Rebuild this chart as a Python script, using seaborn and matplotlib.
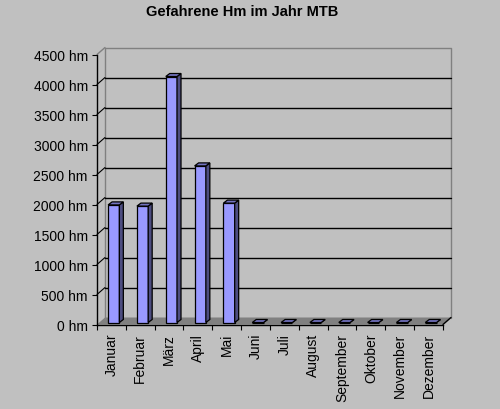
import matplotlib
matplotlib.use('Agg')
import matplotlib.pyplot as plt
import seaborn as sns
import pandas as pd
from matplotlib.patches import Polygon
from matplotlib.lines import Line2D
from matplotlib.transforms import ScaledTranslation

# ---- data ----
months = ["Januar", "Februar", "März", "April", "Mai", "Juni", "Juli",
          "August", "September", "Oktober", "November", "Dezember"]
hm = [1960, 1940, 4100, 2610, 1990, 0, 0, 0, 0, 0, 0, 0]
yticks = [0, 500, 1000, 1500, 2000, 2500, 3000, 3500, 4000, 4500]
ytick_labels = [f"{v} hm" for v in yticks]
title = "Gefahrene Hm im Jahr MTB"

sns.set_style("white")
plt.rcParams['font.family'] = ['Liberation Sans', 'DejaVu Sans']

BG = '#c0c0c0'
FRONT = '#9999ff'
SIDE = '#4d4d80'
TOP = '#7373bf'
FLOOR = '#808080'
WALLEDGE = '#808080'

W, H = 500, 410
fig = plt.figure(figsize=(W / 100, H / 100), dpi=100, facecolor=BG)
x0px, x1px, y0px, y1px = 97, 443, 325.5, 55.5
ax = fig.add_axes([x0px / W, (H - y0px) / H, (x1px - x0px) / W, (y0px - y1px) / H])
ax.set_facecolor('none')

df = pd.DataFrame({"Monat": months, "Hm": hm})
sns.barplot(data=df, x="Monat", y="Hm", ax=ax, color=FRONT, saturation=1,
            width=0.39, edgecolor='black', linewidth=0.9, zorder=5)

nx = len(months)
ax.set_xlim(-0.5, nx - 0.5)
ax.set_ylim(yticks[0], yticks[-1])

# pixel -> data conversions
cat_px = (x1px - x0px) / nx
val_px = (y0px - y1px) / (yticks[-1] - yticks[0])
wdx, wdy = 8 / cat_px, 7 / val_px        # wall depth
bdx, bdy = 4 / cat_px, 3 / val_px        # bar depth
xl, xr = -0.5, nx - 0.5
ytop = yticks[-1]

# floor
ax.add_patch(Polygon([(xl, 0), (xr, 0), (xr + wdx, wdy), (xl + wdx, wdy)],
                     closed=True, facecolor=FLOOR, edgecolor='none',
                     clip_on=False, zorder=1))
# back wall outline (gray)
ax.add_line(Line2D([xl + wdx, xl + wdx, xr + wdx, xr + wdx],
                   [wdy, ytop + wdy, ytop + wdy, wdy],
                   color=WALLEDGE, lw=1, clip_on=False, zorder=1.5))
ax.add_line(Line2D([xl, xl + wdx], [ytop, ytop + wdy], color=WALLEDGE,
                   lw=1, clip_on=False, zorder=1.5))
# floor right diagonal
ax.add_line(Line2D([xr, xr + wdx], [0, wdy], color='black', lw=1,
                   clip_on=False, zorder=3))
# gridlines on back wall + connectors
for v in yticks[1:-1]:
    ax.add_line(Line2D([xl + wdx, xr + wdx], [v + wdy, v + wdy],
                       color='black', lw=1, clip_on=False, zorder=2))
    ax.add_line(Line2D([xl, xl + wdx], [v, v + wdy], color='black',
                       lw=0.8, clip_on=False, zorder=2))

# 3D bars
shift = ScaledTranslation(2.3 / 100, 2 / 100, fig.dpi_scale_trans)
btrans = ax.transData + shift
for p in list(ax.patches):
    if not hasattr(p, 'get_width'):
        continue
    bx, w, h = p.get_x(), p.get_width(), p.get_height()
    if w > 1:
        continue
    p.set_transform(btrans)
    p.set_clip_on(False)
    side = Polygon([(bx + w, 0), (bx + w + bdx, bdy), (bx + w + bdx, h + bdy), (bx + w, h)],
                   closed=True, facecolor=SIDE, edgecolor='black', lw=0.9,
                   transform=btrans, clip_on=False, zorder=5)
    top = Polygon([(bx, h), (bx + w, h), (bx + w + bdx, h + bdy), (bx + bdx, h + bdy)],
                  closed=True, facecolor=TOP, edgecolor='black', lw=0.9,
                  transform=btrans, clip_on=False, zorder=5)
    ax.add_patch(side)
    ax.add_patch(top)

# axes styling
for s in ['top', 'right']:
    ax.spines[s].set_visible(False)
for s in ['left', 'bottom']:
    ax.spines[s].set_color('black')
    ax.spines[s].set_linewidth(1)
    ax.spines[s].set_zorder(3)

ax.set_yticks(yticks, ytick_labels)
ax.tick_params(axis='y', left=True, length=3.6, width=0.8, color='black',
               labelsize=10, pad=3, labelcolor='black')
ax.set_xticks(range(nx), months, rotation=90)
ax.set_xticks([i - 0.5 for i in range(nx + 1)], minor=True)
ax.tick_params(axis='x', which='major', length=0, pad=6, labelsize=10,
               labelcolor='black')
ax.tick_params(axis='x', which='minor', bottom=True, length=3.6, width=0.8,
               color='black')
for lab in ax.get_xticklabels():
    lab.set_verticalalignment('top')
ax.set_xlabel('')
ax.set_ylabel('')
ax.grid(False)

fig.text(242 / W, 1 - 12 / H, title, ha='center', va='center',
         fontsize=10.5, fontweight='bold', color='black')

fig.savefig('out.png', dpi=100, facecolor=BG)
